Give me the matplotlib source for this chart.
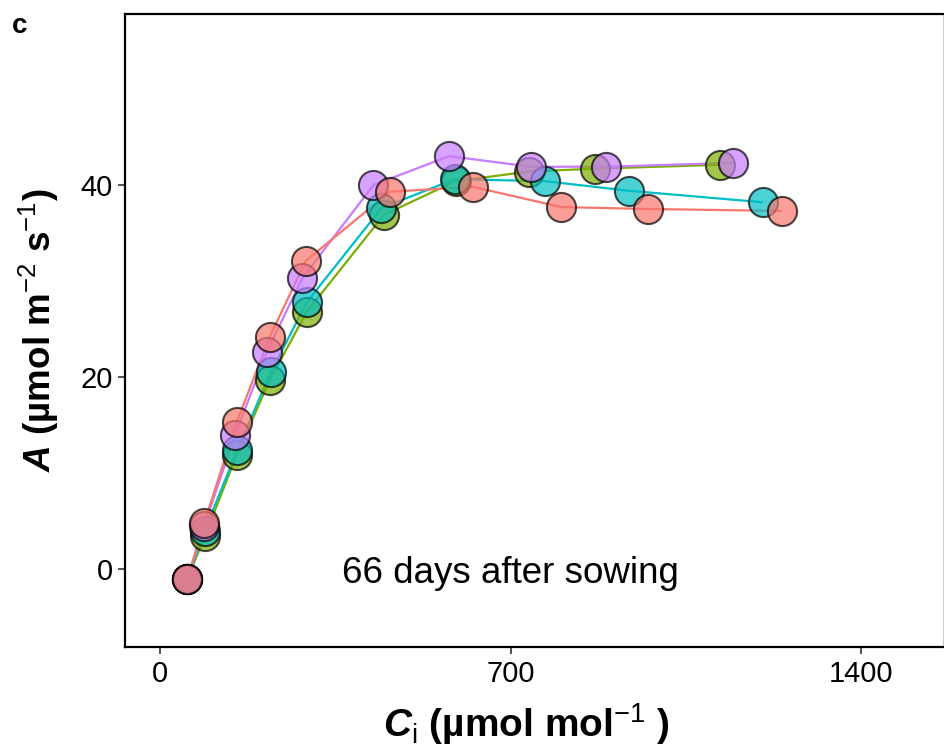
import matplotlib
matplotlib.use("Agg")
import matplotlib.pyplot as plt

# A/Ci response curves, four plants
ci_red = [54.5, 88, 153, 219, 291, 459, 625, 801, 974, 1241]
a_red = [-1.0, 4.8, 15.3, 24.2, 32.1, 39.3, 39.8, 37.7, 37.5, 37.3]

ci_olive = [54.5, 90, 153, 219, 293, 447, 590, 737, 868, 1117]
a_olive = [-1.0, 3.5, 11.9, 19.7, 26.8, 36.9, 40.4, 41.4, 41.7, 42.1]

ci_cyan = [54.5, 89, 154, 221, 293, 442, 588, 768, 936, 1203]
a_cyan = [-1.0, 4.0, 12.4, 20.5, 27.8, 37.6, 40.6, 40.4, 39.4, 38.2]

ci_purple = [54.5, 88, 150, 213, 284, 426, 577, 741, 890, 1143]
a_purple = [-1.0, 4.5, 14.0, 22.6, 30.3, 40.0, 43.0, 41.9, 41.9, 42.3]

x_ticks = [0, 700, 1400]
y_ticks = [0, 20, 40]
note = "66 days after sowing"

plt.rcParams['font.family'] = ['Liberation Sans', 'DejaVu Sans']
plt.rcParams['mathtext.fontset'] = 'custom'
plt.rcParams['mathtext.rm'] = 'Liberation Sans:bold'
plt.rcParams['mathtext.it'] = 'Liberation Sans:bold:italic'
plt.rcParams['mathtext.sf'] = 'Liberation Sans'

fig = plt.figure(figsize=(9.44, 7.48), dpi=100)
ax = fig.add_axes([125 / 944, 1 - 647 / 748, 818 / 944, 633 / 748])

series = [
    (ci_olive, a_olive, '#7CAE00'),
    (ci_cyan, a_cyan, '#00BFC4'),
    (ci_purple, a_purple, '#C77CFF'),
    (ci_red, a_red, '#F8766D'),
]

# lines first, points on top
for x, y, col in series:
    ax.plot(x, y, color=col, lw=1.6, zorder=2, solid_capstyle='butt')
for x, y, col in series:
    ax.scatter(x, y, s=440, facecolor=col, edgecolor='black', linewidths=1.5,
               alpha=0.7, zorder=3)

ax.text(700, -0.5, note, ha='center', va='center', fontsize=26.5)

ax.set_xlim(-70, 1563)
ax.set_ylim(-8.1, 57.8)
ax.set_xticks(x_ticks)
ax.set_yticks(y_ticks)
ax.tick_params(axis='both', direction='out', length=5, width=1.2,
               color='#333333', labelsize=21, labelcolor='black', pad=4)

for side in ['left', 'bottom', 'top']:
    ax.spines[side].set_linewidth(1.6)
    ax.spines[side].set_color('black')
ax.spines['right'].set_color('#cccccc')
ax.spines['right'].set_linewidth(0.8)

ax.set_xlabel(r"$\mathit{C}_{\mathsf{i}}$ (µmol mol$^{\mathsf{-1}}$ )",
              fontsize=28, fontweight='bold', labelpad=10)
ax.xaxis.label.set_x(0.49)
ax.set_ylabel(r"$\mathit{A}$ (µmol m$^{\mathsf{-2}}$ s$^{\mathsf{-1}}$)",
              fontsize=26.5, fontweight='bold', labelpad=14)

fig.text(12 / 944, 1 - 26 / 748, "c", fontsize=20, fontweight='bold',
         va='center', ha='left')

fig.savefig("out.png", dpi=100)
